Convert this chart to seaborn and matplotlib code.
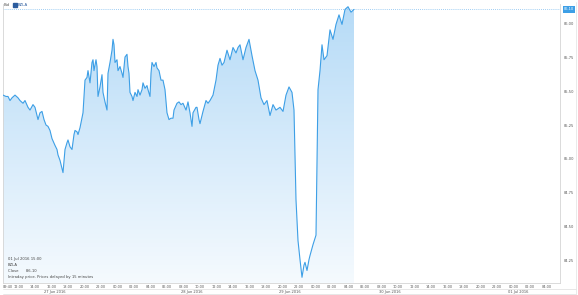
import numpy as np
import pandas as pd
import matplotlib
matplotlib.use("Agg")
import matplotlib.pyplot as plt
from matplotlib.patches import Rectangle
from matplotlib.colors import LinearSegmentedColormap
import seaborn as sns

# ---------------- data ----------------
# bar index of each reading (intraday bars) and bid price
bars = [0, 3, 5, 7, 9, 12, 15, 17, 20, 22, 25, 27, 30, 32, 34, 35, 37, 39, 41, 43,
        45, 47, 49, 52, 54, 55, 57, 59, 60, 62, 64, 65, 67, 69, 71, 72, 74, 75, 77,
        80, 82, 84, 85, 87, 89, 90, 91, 93, 94, 95, 97, 99, 100, 102, 104, 105, 107,
        109, 110, 111, 112, 114, 115, 117, 119, 120, 122, 124, 125, 126, 127, 129,
        130, 132, 134, 135, 137, 139, 140, 142, 144, 145, 147, 148, 149, 151, 153,
        154, 156, 158, 160, 162, 164, 166, 168, 170, 171, 174, 176, 178, 180, 183,
        185, 187, 189, 190, 193, 194, 196,
        197, 200, 203, 205, 207, 210, 213, 215, 217, 219, 221, 224, 227, 230, 233,
        235, 237, 240, 243, 246, 249, 252, 255, 258, 261, 264, 267, 270, 273, 277,
        280, 283, 286, 289, 291, 293, 295, 297, 299, 301, 302, 304, 306, 307, 310,
        313, 315, 317, 319, 321, 324, 327, 330, 333, 336, 339, 342, 345, 348, 351]
prices = [85.47, 85.46, 85.46, 85.43, 85.45, 85.47, 85.45, 85.43, 85.41, 85.43,
          85.38, 85.36, 85.40, 85.38, 85.32, 85.29, 85.34, 85.35, 85.29, 85.25,
          85.24, 85.21, 85.15, 85.10, 85.07, 85.03, 84.99, 84.93, 84.90, 85.07,
          85.12, 85.14, 85.09, 85.07, 85.18, 85.21, 85.20, 85.18, 85.23,
          85.34, 85.58, 85.60, 85.65, 85.56, 85.71, 85.73, 85.65, 85.73, 85.68,
          85.46, 85.53, 85.62, 85.49, 85.42, 85.36, 85.63, 85.71, 85.80, 85.88,
          85.84, 85.71, 85.73, 85.65, 85.68, 85.63, 85.60, 85.75, 85.77, 85.68,
          85.63, 85.49, 85.46, 85.43, 85.49, 85.46, 85.51, 85.47, 85.51, 85.56,
          85.52, 85.54, 85.51, 85.46, 85.63, 85.71, 85.68, 85.71, 85.67, 85.65,
          85.58, 85.58, 85.51, 85.34, 85.29, 85.30, 85.30, 85.36, 85.41, 85.42,
          85.40, 85.41, 85.36, 85.42, 85.34, 85.24, 85.34, 85.38, 85.38, 85.29,
          85.26, 85.35, 85.43, 85.41, 85.43, 85.47, 85.58, 85.69, 85.74, 85.69,
          85.71, 85.80, 85.73, 85.82, 85.78, 85.82, 85.84, 85.73, 85.82, 85.88,
          85.76, 85.65, 85.58, 85.45, 85.40, 85.43, 85.32, 85.40, 85.36, 85.38,
          85.35, 85.47, 85.53, 85.49, 85.36, 84.70, 84.40, 84.26, 84.13, 84.22,
          84.24, 84.18, 84.26, 84.29, 84.37, 84.44, 85.51, 85.65, 85.84, 85.73,
          85.76, 85.95, 85.88, 85.99, 86.06, 85.99, 86.10, 86.12, 86.08, 86.10]

y_ticks = [84.25, 84.50, 84.75, 85.00, 85.25, 85.50, 85.75, 86.00]
last_price = 86.10

first_label = "09:40"
time_labels = ["12:00", "14:00", "16:00", "18:00", "20:00", "22:00", "00:00",
               "02:00", "04:00", "06:00", "08:00", "10:00", "12:00", "14:00",
               "16:00", "18:00", "20:00", "22:00", "00:00", "02:00", "04:00",
               "06:00", "08:00", "10:00", "12:00", "14:00", "16:00", "18:00",
               "20:00", "22:00", "00:00", "02:00", "04:00"]
date_labels = ["27 Jun 2016", "28 Jun 2016", "29 Jun 2016", "30 Jun 2016", "01 Jul 2016"]
date_bars = [52, 189, 287, 387, 515]

instrument = "BZLA"
info_lines = ["01 Jul 2016 15:00", "BZLA", "Close      86.10",
              "Intraday price. Prices delayed by 15 minutes"]

df = pd.DataFrame({"bar": bars, "price": prices})

# ---------------- figure ----------------
sns.set_style("white")
plt.rcParams["font.family"] = ["DejaVu Sans"]
W, H = 578, 295
fig = plt.figure(figsize=(W / 100, H / 100), dpi=100)
ax = fig.add_axes([3 / W, 1 - 283 / H, 557 / W, 279 / H])

line_col = "#3d9fe6"
xmax = 557
ymin, ymax = 84.088, 86.14

# gradient fill under the line
poly = ax.fill_between(df["bar"], df["price"], ymin, color="none", lw=0)
grad = np.linspace(0, 1, 256).reshape(-1, 1)
cmap = LinearSegmentedColormap.from_list("g", ["#f5fafe", "#b6dbf7"])
img = ax.imshow(grad, cmap=cmap, aspect="auto", origin="lower",
                extent=[df["bar"].min(), df["bar"].max(), ymin, df["price"].max()],
                zorder=1)
img.set_clip_path(poly.get_paths()[0], transform=ax.transData)

sns.lineplot(data=df, x="bar", y="price", ax=ax, color=line_col, linewidth=0.8, zorder=3)

# last price dotted line
ax.axhline(last_price, color="#7fbdf0", linestyle=(0, (1, 1.5)), linewidth=0.6, zorder=2)

ax.set_xlim(0, xmax)
ax.set_ylim(ymin, ymax)
ax.set_xlabel("")
ax.set_ylabel("")

ax.yaxis.tick_right()
ax.set_yticks(y_ticks)
ax.set_yticklabels([f"{v:.2f}" for v in y_ticks], fontsize=2.6, color="#555555")
ax.tick_params(axis="y", length=0, pad=3)

xt = [0] + [15.5 + i * 16.5 for i in range(len(time_labels))]
ax.set_xticks(xt)
labs = ax.set_xticklabels([first_label] + time_labels, fontsize=2.5, color="#555555")
labs[0].set_ha("left")
ax.tick_params(axis="x", length=0, pad=1.5)

ax.spines["top"].set_visible(False)
for s in ["left", "right", "bottom"]:
    ax.spines[s].set_color("#d5d5d5")
    ax.spines[s].set_linewidth(0.6)

# last price badge
yfig = ax.transData.transform((0, last_price))[1] / H
fig.text(569 / W, yfig, f"{last_price:.2f}", fontsize=2.6, color="white",
         ha="center", va="center",
         bbox=dict(boxstyle="square,pad=0.3", fc="#3d9fe6", ec="none"))

# date row
for d, lab in zip(date_bars, date_labels):
    xf = ax.transData.transform((d, 0))[0] / W
    fig.text(xf, 1 - 291.5 / H, lab, fontsize=2.6, color="#555555", ha="center", va="center")
fig.add_artist(plt.Line2D([3 / W, 576 / W], [1 - 289 / H] * 2, color="#dddddd", lw=0.5))
fig.add_artist(plt.Line2D([3 / W, 576 / W], [1 - 294 / H] * 2, color="#dddddd", lw=0.5))
fig.add_artist(plt.Line2D([576 / W, 576 / W], [1 - 294 / H, 1 - 2 / H], color="#e2e2e2", lw=0.5))

# header
fig.text(4 / W, 1 - 5 / H, "Bid", fontsize=2.8, color="#555555", va="center")
fig.add_artist(Rectangle((13 / W, 1 - 7 / H), 3.5 / W, 4 / H, color="#2b5c9e"))
fig.text(17.5 / W, 1 - 5 / H, instrument, fontsize=2.8, color="#2b5c9e", va="center")

# info box
for i, t in enumerate(info_lines):
    fig.text(8 / W, 1 - (259 + i * 6) / H, t, fontsize=2.7, color="#444444", va="center")

fig.savefig("out.png", dpi=100)
